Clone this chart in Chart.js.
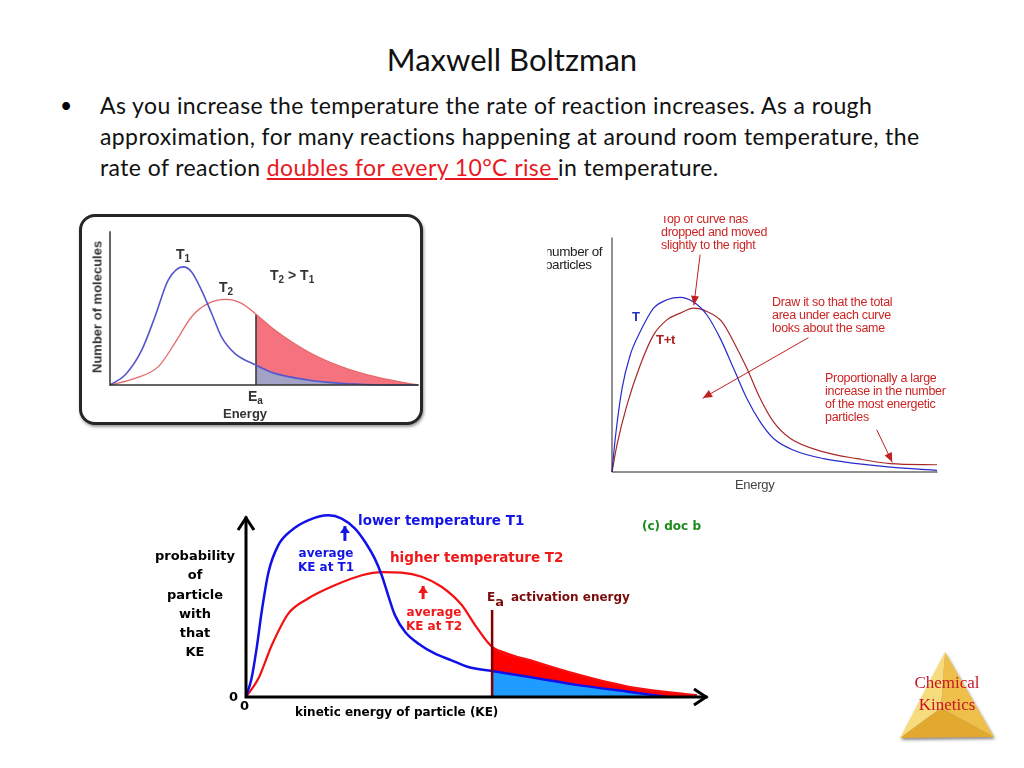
<!DOCTYPE html>
<html>
<head>
<meta charset="utf-8">
<script src="https://cdn.jsdelivr.net/npm/chart.js@4.4.0/dist/chart.umd.min.js"></script>
<style>
body { margin: 0; width: 1024px; height: 768px; background: #fff; position: relative; overflow: hidden; font-family: Lato, sans-serif; }
canvas.layer { position: absolute; left: 0; top: 0; }
.t { position: absolute; white-space: nowrap; line-height: 1; }
.title { position: absolute; left: 0; width: 1024px; top: 40px; text-align: center; font-size: 31px; color: #111; }
.bullet { position: absolute; left: 100px; top: 90px; font-size: 23px; letter-spacing: 0.4px; line-height: 31px; color: #111; }
.dot { position: absolute; left: 60px; top: 89px; font-size: 21px; line-height: 31px; }
.red { color: #e8191e; text-decoration: underline; }
#box1 { position: absolute; left: 79px; top: 214px; width: 338px; height: 205px; border: 3px solid #262626; border-radius: 16px; box-shadow: 1px 2px 3px #999; background: #fff; }
.c1 { font-family: "Liberation Sans", Arial, sans-serif; font-weight: bold; color: #333; font-size: 14px; }
.c1 sub { font-size: 10px; vertical-align: -3px; }
.c2 { font-family: "Liberation Sans", Arial, sans-serif; font-size: 12.5px; letter-spacing: -0.3px; color: #cc2424; line-height: 13px; }
.c3 { font-family: "DejaVu Sans", Verdana, sans-serif; font-weight: bold; font-size: 13px; }
</style>
</head>
<body>

<div class="title">Maxwell Boltzman</div>
<div class="dot">•</div>
<div class="bullet">As you increase the temperature the rate of reaction increases. As a rough<br>approximation, for many reactions happening at around room temperature, the<br>rate of reaction <span class="red">doubles for every 10°C rise </span>in temperature.</div>

<div id="box1"></div>

<canvas id="chart1" class="layer" width="1024" height="768"></canvas>
<canvas id="chart2" class="layer" width="1024" height="768"></canvas>
<canvas id="chart3" class="layer" width="1024" height="768"></canvas>

<!-- chart 1 labels -->
<div class="t c1" style="left:97px;top:307px;transform:translate(-50%,-50%) rotate(-90deg);font-size:13px;">Number of molecules</div>
<div class="t c1" style="left:176px;top:247px;">T<sub>1</sub></div>
<div class="t c1" style="left:219px;top:280px;">T<sub>2</sub></div>
<div class="t c1" style="left:270px;top:268px;">T<sub>2</sub> &gt; T<sub>1</sub></div>
<div class="t c1" style="left:248px;top:389px;">E<sub>a</sub></div>
<div class="t c1" style="left:223px;top:407px;font-size:13px;">Energy</div>

<!-- chart 2 labels -->
<div style="position:absolute;left:655px;top:216px;width:150px;height:40px;overflow:hidden;">
  <div class="t c2" style="left:6px;top:-3px;">Top of curve has<br>dropped and moved<br>slightly to the right</div>
</div>
<div class="t c2" style="left:772px;top:296px;">Draw it so that the total<br>area under each curve<br>looks about the same</div>
<div class="t c2" style="left:825px;top:372px;">Proportionally a large<br>increase in the number<br>of the most energetic<br>particles</div>
<div style="position:absolute;left:547px;top:243px;width:70px;height:30px;overflow:hidden;">
  <div class="t c2" style="left:-2px;top:2px;color:#222;font-size:13.5px;letter-spacing:-0.4px;">number of<br>particles</div>
</div>
<div class="t c2" style="left:735px;top:478px;color:#444;font-size:13px;">Energy</div>
<div class="t c2" style="left:632px;top:310px;color:#2233bb;font-weight:bold;font-size:13px;">T</div>
<div class="t c2" style="left:656px;top:333px;color:#b02020;font-weight:bold;font-size:13px;">T+t</div>

<!-- chart 3 labels -->
<div class="t c3" style="left:195px;top:546px;transform:translateX(-50%);text-align:center;line-height:19.3px;">probability<br>of<br>particle<br>with<br>that<br>KE</div>
<div class="t c3" style="left:358px;top:514px;color:#1414e6;font-size:13.5px;">lower temperature T1</div>
<div class="t c3" style="left:326px;top:546px;transform:translateX(-50%);text-align:center;color:#1414e6;font-size:12px;line-height:14px;">average<br>KE at T1</div>
<div class="t c3" style="left:390px;top:551px;color:#f01818;font-size:13.5px;">higher temperature T2</div>
<div class="t c3" style="left:434px;top:605px;transform:translateX(-50%);text-align:center;color:#f01818;font-size:12px;line-height:14px;">average<br>KE at T2</div>
<div class="t c3" style="left:487px;top:590px;color:#7a0a0a;font-size:12px;">E<span style="position:relative;top:5px;font-size:13px;">a</span></div>
<div class="t c3" style="left:511px;top:591px;color:#7a0a0a;font-size:12px;">activation energy</div>
<div class="t c3" style="left:642px;top:520px;color:#1a8a1a;font-size:12px;">(c) doc b</div>
<div class="t c3" style="left:229px;top:690px;">0</div>
<div class="t c3" style="left:240px;top:699px;">0</div>
<div class="t c3" style="left:295px;top:706px;font-size:12px;">kinetic energy of particle (KE)</div>

<!-- logo -->
<svg style="position:absolute;left:896px;top:648px;" width="106" height="98">
  <defs>
    <filter id="sh"><feDropShadow dx="1" dy="2" stdDeviation="1.5" flood-color="#888"/></filter>
  </defs>
  <g filter="url(#sh)">
    <polygon points="49,4 4,90 45,60" fill="#f6dc7c"/>
    <polygon points="49,4 98,89 45,60" fill="#efc04a"/>
    <polygon points="4,90 98,89 45,60" fill="#e2a92e"/>
  </g>
</svg>
<div class="t" style="left:908px;top:672px;width:78px;text-align:center;font-family:'Liberation Serif',serif;font-size:17px;color:#c8142a;line-height:22px;">Chemical<br>Kinetics</div>

<script>
// ---- chart 1 : Number of molecules vs Energy ----
const t1Energy = [0, 0.49, 1.03, 1.46, 1.89, 2.38, 2.65, 2.97, 3.3, 3.62, 4.05, 4.74, 5.35, 6.43, 7.5, 8.6, 10];
const t1Count  = [0, 0.65, 2.28, 4.46, 6.85, 7.72, 7.39, 6.2, 4.67, 3.15, 2.07, 1.30, 0.76, 0.33, 0.11, 0.02, 0];
const t2Energy = [0, 0.81, 1.57, 2.1, 2.65, 3.19, 3.78, 4.27, 4.74, 5.35, 6.43, 7.5, 8.6, 9.68, 10];
const t2Count  = [0, 0.43, 1.2, 2.72, 4.46, 5.33, 5.59, 5.33, 4.63, 3.59, 2.17, 1.2, 0.54, 0.11, 0];
const ea1 = 4.74;

// ---- chart 2 : number of particles, T and T+t ----
const tEnergy  = [0, 0.1, 0.31, 0.56, 0.87, 1.28, 1.69, 2.1, 2.51, 2.92, 3.33, 3.74, 4.15, 4.56, 4.97, 5.59, 6.51, 7.54, 8.56, 10];
const tCount   = [0, 1.43, 3.57, 5.0, 6.0, 7.0, 7.36, 7.46, 7.26, 6.71, 5.71, 4.43, 3.14, 2.14, 1.43, 0.93, 0.57, 0.36, 0.21, 0.07];
const ttEnergy = [0, 0.15, 0.46, 0.87, 1.28, 1.69, 2.1, 2.51, 2.92, 3.38, 3.74, 4.15, 4.56, 4.97, 5.49, 6.51, 7.54, 8.56, 10];
const ttCount  = [0, 1.14, 2.86, 4.57, 5.86, 6.5, 6.79, 7.0, 6.86, 6.43, 5.57, 4.43, 3.14, 2.14, 1.43, 0.86, 0.57, 0.36, 0.31];

// ---- chart 3 : probability vs kinetic energy ----
const lowKE   = [0, 0.12, 0.23, 0.34, 0.49, 0.70, 0.99, 1.35, 1.79, 2.08, 2.37, 2.59, 2.8, 2.95, 3.09, 3.24, 3.46, 3.75, 4.11, 4.47, 4.83, 5.35, 6.17, 7.26, 8.35, 9.15];
const lowProb = [0, 1.03, 2.7, 4.75, 6.98, 8.47, 9.31, 9.87, 10.15, 9.97, 9.41, 8.66, 7.73, 6.8, 5.68, 4.56, 3.63, 2.98, 2.42, 2.05, 1.68, 1.45, 1.12, 0.65, 0.28, 0];
const highKE   = [0, 0.27, 0.56, 0.92, 1.35, 1.93, 2.52, 2.95, 3.38, 3.82, 4.25, 4.69, 4.98, 5.35, 6.17, 7.26, 8.35, 9.8];
const highProb = [0, 1.03, 2.89, 4.66, 5.5, 6.24, 6.8, 6.98, 6.95, 6.72, 6.16, 5.14, 4.02, 2.8, 2.06, 1.22, 0.56, 0.1];
const ea3 = 5.35;
const ea3Top = 4.86;

function pts(xs, ys) {
    return xs.map((x, i) => ({ x: x, y: ys[i] }));
}
function tail(xs, ys, from) {
    return pts(xs, ys).filter(p => p.x >= from);
}

function lineSet(data, color, width) {
    return { data: data, borderColor: color, borderWidth: width, fill: false,
             cubicInterpolationMode: 'monotone', pointRadius: 0, clip: false };
}
function fillSet(data, color) {
    return { data: data, borderWidth: 0, borderColor: 'rgba(0,0,0,0)', backgroundColor: color,
             fill: 'origin', cubicInterpolationMode: 'monotone', pointRadius: 0, clip: false };
}

function options(pad, extra) {
    return {
        responsive: false,
        animation: false,
        layout: { padding: pad },
        plugins: { legend: { display: false }, tooltip: { enabled: false }, notes: extra },
        scales: {
            x: { type: 'linear', min: 0, max: 10, display: false },
            y: { type: 'linear', min: 0, max: 10, display: false }
        }
    };
}

function arrowHead(ctx, x1, y1, x2, y2, len, half) {
    const a = Math.atan2(y2 - y1, x2 - x1);
    ctx.beginPath();
    ctx.moveTo(x2, y2);
    ctx.lineTo(x2 - len * Math.cos(a) + half * Math.sin(a), y2 - len * Math.sin(a) - half * Math.cos(a));
    ctx.lineTo(x2 - len * Math.cos(a) - half * Math.sin(a), y2 - len * Math.sin(a) + half * Math.cos(a));
    ctx.closePath();
    ctx.fill();
}

// draws the axis lines and pointer arrows using the chart's own scales
const notes = {
    id: 'notes',
    afterDraw(chart, args, opts) {
        const ctx = chart.ctx;
        const xs = chart.scales.x, ys = chart.scales.y;
        const x0 = xs.getPixelForValue(0), y0 = ys.getPixelForValue(0);
        const xr = xs.getPixelForValue(10), yt = ys.getPixelForValue(10);
        ctx.save();
        ctx.strokeStyle = opts.axisColor;
        ctx.lineWidth = opts.axisWidth;
        ctx.lineCap = 'square';
        ctx.beginPath();
        ctx.moveTo(x0, yt);
        ctx.lineTo(x0, y0);
        ctx.lineTo(xr, y0);
        ctx.stroke();
        if (opts.chevrons) {
            ctx.lineCap = 'butt';
            ctx.beginPath();
            ctx.moveTo(x0 - 8, yt + 12); ctx.lineTo(x0, yt); ctx.lineTo(x0 + 8, yt + 12);
            ctx.moveTo(xr - 12, y0 - 8); ctx.lineTo(xr, y0); ctx.lineTo(xr - 12, y0 + 8);
            ctx.stroke();
        }
        (opts.arrows || []).forEach(a => {
            const px1 = xs.getPixelForValue(a.from[0]), py1 = ys.getPixelForValue(a.from[1]);
            const px2 = xs.getPixelForValue(a.to[0]), py2 = ys.getPixelForValue(a.to[1]);
            ctx.strokeStyle = a.color;
            ctx.fillStyle = a.color;
            ctx.lineWidth = a.width;
            ctx.beginPath();
            ctx.moveTo(px1, py1);
            ctx.lineTo(px2, py2);
            ctx.stroke();
            arrowHead(ctx, px1, py1, px2, py2, a.head, a.half);
        });
        ctx.restore();
    }
};

// chart 1
new Chart(document.getElementById('chart1'), {
    type: 'line',
    data: {
        datasets: [
            lineSet(pts(t1Energy, t1Count), '#5555cc', 1.6),
            lineSet(pts(t2Energy, t2Count), '#e56a6a', 1.3),
            lineSet([{ x: ea1, y: 0 }, { x: ea1, y: t2Count[t2Energy.indexOf(ea1)] }], '#333', 1.5),
            fillSet(tail(t1Energy, t1Count, ea1), '#a2a2c6'),
            fillSet(tail(t2Energy, t2Count, ea1), '#f5737e')
        ]
    },
    options: options({ left: 110, top: 232, right: 1024 - 418, bottom: 768 - 385 },
        { axisColor: '#333', axisWidth: 1.5 }),
    plugins: [notes]
});

// chart 2
new Chart(document.getElementById('chart2'), {
    type: 'line',
    data: {
        datasets: [
            lineSet(pts(tEnergy, tCount), '#2a2acc', 1.2),
            lineSet(pts(ttEnergy, ttCount), '#a82828', 1.2)
        ]
    },
    options: options({ left: 612, top: 238, right: 1024 - 937, bottom: 768 - 472 }, {
        axisColor: '#222', axisWidth: 1,
        arrows: [
            { from: [2.71, 9.27], to: [2.52, 7.14], color: '#c02020', width: 1, head: 9, half: 4 },
            { from: [6.03, 5.73], to: [2.8, 3.16], color: '#c02020', width: 1, head: 9, half: 4 },
            { from: [8.15, 1.79], to: [8.62, 0.43], color: '#c02020', width: 1, head: 9, half: 4 }
        ]
    }),
    plugins: [notes]
});

// chart 3
new Chart(document.getElementById('chart3'), {
    type: 'line',
    data: {
        datasets: [
            lineSet([{ x: ea3, y: 0 }, { x: ea3, y: ea3Top }], '#800000', 2.5),
            lineSet(pts(lowKE, lowProb), '#1010e8', 2.5),
            lineSet(pts(highKE, highProb), '#f51010', 2.2),
            fillSet(tail(lowKE, lowProb, ea3), '#1e9cff'),
            fillSet(tail(highKE, highProb, ea3), '#ff0000')
        ]
    },
    options: options({ left: 246, top: 518, right: 1024 - 706, bottom: 768 - 697 }, {
        axisColor: '#000', axisWidth: 3, chevrons: true,
        arrows: [
            { from: [2.15, 8.72], to: [2.15, 9.55], color: '#1414e6', width: 3, head: 7, half: 5 },
            { from: [3.85, 5.47], to: [3.85, 6.2], color: '#f01818', width: 3, head: 7, half: 5 }
        ]
    }),
    plugins: [notes]
});
</script>
</body>
</html>
